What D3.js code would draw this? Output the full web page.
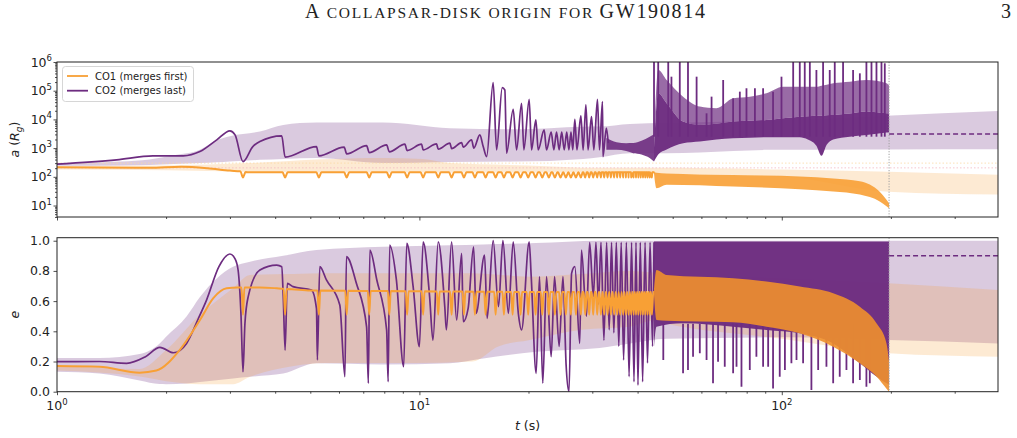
<!DOCTYPE html>
<html>
<head>
<meta charset="utf-8">
<script src="https://cdn.jsdelivr.net/npm/d3@7"></script>
<style>
body { margin: 0; background: #fff; }
svg { display: block; }
text { font-family: "DejaVu Sans", sans-serif; fill: #222; }
</style>
</head>
<body>
<svg id="fig" width="1017" height="438"></svg>
<script>
// ---- data ----
// CO2 separation a (Rg) before the dense phase
var co2TopT = [1.0,1.46,1.84,2.23,2.48,2.76,3.0,3.10,3.26,3.47,3.63,4.17,4.26,5.20,5.28,6.20,6.30,7.15,7.27,8.12,8.26,9.12,9.25,10.14,10.24,11.15,11.27,12.14,12.27,13.08,13.21,13.93,14.13,14.68,15.0,15.33,15.98,16.33,16.93,17.21,17.40,18.15,18.54,19.14,19.42,20.09,20.39,20.96,21.27,22.09,22.43,23.1,23.5,23.9,24.3,24.7,25.1,25.5,25.85,26.2,26.5,26.85,27.2,27.9,28.3,28.8,29.2,29.85,30.3,31.0,31.4,32.0,32.1,32.8,33.2];
var co2TopA = [277,390,537,540,758,1936,3981,2890,340,1132,1692,2667,484,1132,537,1077,631,1227,700,1296,741,1371,822,1371,869,1406,918,1486,963,1560,1079,1936,1000,2890,1132,508,190000,869,127600,106000,667,22600,869,36500,869,50400,869,9610,869,4315,869,3600,869,3600,869,3600,869,3600,869,3600,869,10100,869,13240,869,31900,869,12600,869,50400,869,41700,508,4940,1500];
// fast small oscillation just before the dense phase (envelope)
var oscT = [32.8, 35.0, 37.2, 38.9, 41.0, 43.2, 44.4];
var oscLo = [869, 869, 800, 667, 600, 450, 340];
var oscHi = [2260, 1600, 1486, 1500, 1800, 2512, 3000];
// dense phase envelopes of CO2 (a)
var denseT = [44.4,45.6,48.1,53.4,59.4,66.0,73.4,81.6,90.7,100.8,112.1,118,124.6,128.7,133,138.6,154,171.2,194.5,197.7];
var denseLo = [340,600,900,1486,1692,2000,2218,2300,2400,2400,2400,2000,1200,537,1300,2000,2512,2890,3475,3600];
var denseMid = [1000,81300,36500,8380,6442,7000,8380,9000,9610,11000,12500,13000,13500,13500,14000,14300,16000,18700,16300,16000];
var denseHi = [2000,527000,236000,62100,27900,24400,54300,62100,81300,138000,138000,138000,138000,150000,160000,181000,207000,236000,181000,150000];
var spikeTopT = [44.4,45.6,48.6,49.6,52.3,55.1,58.2,62.0,64.0,68.9,73.4,76.6,79.9,84.3,88.8,94.6,99.8,107.5,112.1,115.7,119.5,124.6,130.0,135.6,140.0,147.6,157.3,164.2,171.2,176.8,182.5,188.4,192.4];
var spikeTopA = [1e6,1e6,1e6,308000,1e6,1e6,308000,16300,62100,236000,54300,92700,121600,121600,121600,92700,308000,1e6,1e6,1e6,1e6,527000,1e6,527000,1e6,1e6,527000,403000,1e6,1e6,1e6,1e6,900000];

// CO1 separation a (Rg)
var co1TopT = [1.0, 1.8, 2.2, 2.6, 3.0, 3.2, 3.4, 10, 20, 30, 44.4];
var co1TopA = [215, 205, 225, 200, 165, 155, 143, 143, 143, 143, 143];
var co1DenseT = [44.4, 45.1, 48.1, 73.4, 112.1, 138.6, 164.2, 186.3, 194.5, 197.7];
var co1DenseHi = [150, 138, 130, 115, 102, 88, 70, 30, 16, 12];
var co1DenseLo = [130, 40, 53, 46, 37, 31, 24, 13.8, 9.5, 8.1];

// encounter times (CO1 cusps)
var encT = [3.26,4.26,5.28,6.30,7.27,8.26,9.25,10.24,11.27,12.27,13.27,14.23,15.23,16.23,17.11,18.08,19.02,19.96,20.92,21.83,22.76,23.65,24.52,25.36,26.18,27.03,27.90,28.68,29.41,30.17,30.95,31.68,32.35,33.05,33.75,34.46,35.13,35.81,36.5,37.13,37.77,38.4,39.0,39.6,40.2,40.8,41.4,42.0,42.6,43.2,43.8];
var dipA = 95, dipE = 0.51;

// eccentricities
var co2BotT = [1.0,1.31,1.556,1.75,1.924,2.094,2.278,2.45,2.586,2.8,3.0,3.1,3.16,3.22,3.26,3.3,3.37,3.63,4.04,4.17,4.21,4.26,4.32,4.48,5.04,5.20,5.23,5.31,5.54,6.03,6.23,6.29,6.70,7.15,7.23,7.30,7.63,8.12,8.20,8.28,8.64,9.05,9.23,9.61,10.0,10.24,10.67,10.9,11.27,11.75,11.87,12.27,12.67,13.08,13.21,13.63,14.11,14.34,15.13,15.38,15.98,16.53,17.0,17.6,18.15,18.75,19.14,20.09,20.35,21.0,21.45,21.9,22.43,23.1,23.6,24.3,24.9,25.4,25.87,26.3,26.85,27.7,28.0,28.9,29.5,30.2,30.7,31.2,31.7,32.3,32.85,33.4,33.9,34.4,34.95,35.5,36.05,36.6,37.25,37.9,38.5,39.1,39.6,40.1,40.7,41.3,41.95,42.6,43.3,44.0,44.4];
var co2BotE = [0.199,0.2,0.188,0.23,0.294,0.258,0.32,0.48,0.607,0.83,0.912,0.88,0.806,0.5,0.132,0.45,0.63,0.806,0.839,0.828,0.63,0.276,0.718,0.696,0.673,0.55,0.21,0.828,0.74,0.574,0.099,0.894,0.718,0.43,0.056,0.938,0.74,0.409,0.066,0.971,0.74,0.166,0.983,0.696,0.298,0.993,0.63,0.342,0.993,0.563,0.409,0.993,0.475,0.917,0.464,0.552,0.96,0.519,0.905,0.486,1.0,0.563,1.0,0.519,0.993,0.519,0.409,0.993,0.762,0.122,0.762,0.056,0.762,0.232,0.762,0.3,0.762,0.177,0.0,0.784,0.828,0.32,0.938,0.5,0.99,0.63,0.99,0.58,0.99,0.34,0.99,0.41,0.99,0.39,0.99,0.3,0.99,0.21,0.99,0.1,0.99,0.066,0.99,0.044,0.99,0.066,0.99,0.19,0.99,0.3,0.99];
var eDenseT = [44.4, 45.1, 53.4, 73.4, 90.7, 112.1, 138.6, 164.2, 182.5, 194.5, 197.7];
var eDenseLo = [0.3, 0.43, 0.453, 0.43, 0.409, 0.387, 0.32, 0.188, 0.1, 0.056, 0.05];
var eDenseHi = [0.995, 0.995, 0.995, 0.995, 0.995, 0.995, 0.995, 0.995, 0.995, 0.995, 0.995];
var spikeBotT = [47.1,53.4,55.1,56.9,59.4,62.0,64.6,66.7,69.6,73.4,75.0,77.4,81.6,85.1,88.8,91.7,94.6,98.7,102.0,106.3,109.8,114.5,120.7,126.0,132.8,138.6,144.5,150.8,157.3,164.2,171.2,174.9];
var spikeBotE = [0.21,0.122,0.144,0.232,0.254,0.21,0.056,0.199,0.166,0.122,0.166,0.033,0.144,0.232,0.166,0.166,0.022,0.099,0.144,0.188,0.21,0.188,0.011,0.144,0.166,0.056,0.099,0.144,0.056,0.078,0.033,0.056];

var co1BotT = [1.0, 1.31, 1.69, 1.88, 2.18, 2.48, 2.7, 2.94, 3.15, 3.63, 4.04, 5.0, 10, 20, 30, 44.4];
var co1BotE = [0.17, 0.165, 0.126, 0.14, 0.276, 0.475, 0.62, 0.685, 0.69, 0.69, 0.685, 0.67, 0.665, 0.66, 0.66, 0.66];
var co1EDenseT = [44.4, 45.1, 48.1, 73.4, 90.7, 112.1, 138.6, 164.2, 182.5, 194.5, 197.7];
var co1EDenseHi = [0.68, 0.806, 0.773, 0.751, 0.73, 0.696, 0.652, 0.563, 0.453, 0.32, 0.2];
var co1EDenseLo = [0.64, 0.475, 0.47, 0.46, 0.431, 0.387, 0.298, 0.188, 0.1, 0.02, 0.0];

// population bands
var bandPTopT = [1.0,1.5,1.8,2.1,2.48,2.76,3.0,3.63,4.21,5.2,7.94,12.14,18.54,28.3,31.4,38.1,48.1,73.4,90.7,171.2,194.5,395];
var bandPTopLo = [245,250,260,280,300,320,340,390,420,450,300,330,340,420,484,667,667,800,869,890,900,918];
var bandPTopHi = [300,340,400,560,869,1900,2600,3800,6442,7740,7740,4940,4500,5600,5620,6970,7500,8380,9000,12500,13500,19800];
var bandOTopT = [1.0, 2.0, 3.41, 5.2, 7.94, 10.2, 12.14, 20, 31.4, 44, 100, 197, 395];
var bandOTopLo = [180, 170, 150, 140, 140, 140, 140, 140, 140, 130, 100, 30, 24];
var bandOTopHi = [240, 250, 300, 400, 450, 420, 300, 250, 205, 205, 180, 150, 117];
var bandPBotT = [1.0,1.31,1.69,1.92,2.0,2.28,2.48,3.06,3.41,4.21,5.2,7.94,12.14,15.0,21.0,31.4,38.1,48.1,100,197,395];
var bandPBotLo = [0.132,0.12,0.075,0.051,0.05,0.055,0.065,0.088,0.099,0.12,0.188,0.18,0.188,0.22,0.265,0.29,0.32,0.35,0.36,0.342,0.32];
var bandPBotHi = [0.223,0.223,0.25,0.32,0.364,0.5,0.627,0.828,0.861,0.9,0.938,0.96,0.97,0.975,0.985,1.0,1.0,1.0,1.0,1.0,1.0];
var bandOBotT = [1.0,1.69,2.0,2.48,3.06,3.41,4.5,5.5,9.5,14,16.5,20,28,38,44,48,100,197,395];
var bandOBotLo = [0.14,0.1,0.07,0.05,0.05,0.099,0.17,0.19,0.19,0.2,0.3,0.34,0.41,0.43,0.47,0.45,0.35,0.254,0.232];
var bandOBotHi = [0.17,0.15,0.276,0.51,0.685,0.773,0.78,0.784,0.784,0.784,0.775,0.762,0.78,0.8,0.79,0.78,0.75,0.718,0.673];

var tMerge = 197.7, aFinal = 3130, eFinal = 0.90;
var refLinesA = [300, 205];
var xMajor = [1, 10, 100];
var yMajorA = [10, 100, 1000, 1e4, 1e5, 1e6];
var yTicksE = [0, 0.2, 0.4, 0.6, 0.8, 1.0];
var legendLabels = ["CO1 (merges first)", "CO2 (merges last)"];

// ---- layout ----
var purple = "#6d2c80", orange = "#f8a035", orangeDense = "#f0902c";
var L = 57, R = 998;
var topY0 = 62, topY1 = 217, botY0 = 237.7, botY1 = 391.7;

var svg = d3.select("#fig");
var x = d3.scaleLog().domain([1, 395]).range([L, R]);
var yA = d3.scaleLog().domain([Math.pow(10, 0.6), 1e6]).range([topY1, topY0]);
var yE = d3.scaleLinear().domain([0, 1.02]).range([botY1, botY0]);

function zip(t, v) { return t.map(function(d, i) { return [d, v[i]]; }); }
function zip3(t, lo, hi) { return t.map(function(d, i) { return [d, lo[i], hi[i]]; }); }

// line with cusps at the encounter times
function withDips(t, v, dips, dipV, halfW, logY) {
  var f = function(q) { return logY ? Math.log10(q) : q; };
  var base = d3.scaleLinear().domain(t.map(Math.log10)).range(v.map(f)).clamp(true);
  var bv = function(tt) { var r = base(Math.log10(tt)); return logY ? Math.pow(10, r) : r; };
  var k = Math.pow(10, halfW);
  var pts = zip(t, v).filter(function(p) {
    return !dips.some(function(te) { return p[0] > te / k && p[0] < te * k; });
  });
  dips.forEach(function(te) {
    pts.push([te / k, bv(te / k)], [te, dipV], [te * k, bv(te * k)]);
  });
  pts.sort(function(p, q) { return p[0] - q[0]; });
  return pts;
}

var defs = svg.append("defs");
defs.append("clipPath").attr("id", "clipTop").append("rect")
  .attr("x", L).attr("y", topY0).attr("width", R - L).attr("height", topY1 - topY0);
defs.append("clipPath").attr("id", "clipBot").append("rect")
  .attr("x", L).attr("y", botY0).attr("width", R - L).attr("height", botY1 - botY0);

function drawPanel(opt) {
  var y = opt.y;
  var g = svg.append("g").attr("clip-path", "url(#" + opt.clip + ")");
  var line = d3.line().x(function(d) { return x(d[0]); }).y(function(d) { return y(d[1]); }).curve(d3.curveMonotoneX);
  var area = d3.area().x(function(d) { return x(d[0]); })
    .y0(function(d) { return y(d[1]); }).y1(function(d) { return y(d[2]); }).curve(d3.curveMonotoneX);

  g.append("path").attr("d", area(opt.bandP)).attr("fill", purple).attr("fill-opacity", 0.25);
  g.append("path").attr("d", area(opt.bandO)).attr("fill", orange).attr("fill-opacity", 0.22);

  (opt.refs || []).forEach(function(r, i) {
    g.append("line").attr("x1", L).attr("x2", R).attr("y1", y(r)).attr("y2", y(r))
      .attr("stroke", i === 0 ? "#fbd9a6" : "#f5b8c4").attr("stroke-width", 0.8)
      .attr("stroke-dasharray", "1.5,2");
  });

  // CO2
  if (opt.osc) g.append("path").attr("d", area(opt.osc)).attr("fill", purple).attr("fill-opacity", 0.9);
  g.append("path").attr("d", area(opt.dense)).attr("fill", purple).attr("fill-opacity", 0.97);
  if (opt.fringe) g.append("path").attr("d", area(opt.fringe)).attr("fill", purple).attr("fill-opacity", 0.7);
  g.selectAll("line.spike").data(opt.spikes).enter().append("line").attr("class", "spike")
    .attr("x1", function(d) { return x(d[0]); }).attr("x2", function(d) { return x(d[0]); })
    .attr("y1", function(d) { return y(d[1]); }).attr("y2", y(opt.spikeBase))
    .attr("stroke", purple).attr("stroke-width", 1.8);
  g.append("path").attr("d", line(opt.co2)).attr("fill", "none")
    .attr("stroke", purple).attr("stroke-width", 1.7).attr("stroke-linejoin", "round");

  // CO1
  g.append("path").attr("d", line(opt.co1)).attr("fill", "none")
    .attr("stroke", orange).attr("stroke-width", 2).attr("stroke-linejoin", "round");
  g.append("path").attr("d", area(opt.co1Dense)).attr("fill", opt.co1Fill).attr("fill-opacity", 0.9);

  // after merger
  g.append("line").attr("x1", x(tMerge)).attr("x2", R).attr("y1", y(opt.final)).attr("y2", y(opt.final))
    .attr("stroke", purple).attr("stroke-width", 1.5).attr("stroke-dasharray", "5,3");
  g.append("line").attr("x1", x(tMerge)).attr("x2", x(tMerge)).attr("y1", opt.y0).attr("y2", opt.y1)
    .attr("stroke", "#a0a0a0").attr("stroke-width", 1).attr("stroke-dasharray", "1.2,1.5");

  // axes
  var minorX = [];
  [1, 10, 100].forEach(function(dec) { for (var m = 2; m <= 9; m++) if (dec * m <= 395) minorX.push(dec * m); });
  var ax = svg.append("g").attr("transform", "translate(0," + opt.y1 + ")");
  ax.call(d3.axisBottom(x).tickValues(xMajor).tickSize(3.5).tickFormat(""));
  ax.append("g").call(d3.axisBottom(x).tickValues(minorX).tickSize(2).tickFormat(""));
  ax.selectAll(".domain").remove();
  ax.selectAll("line").attr("stroke", "#222").attr("stroke-width", 0.8);

  var ay = svg.append("g").attr("transform", "translate(" + L + ",0)");
  ay.call(d3.axisLeft(y).tickValues(opt.yMajor).tickSize(3.5).tickFormat(""));
  if (opt.yMinor) ay.append("g").call(d3.axisLeft(y).tickValues(opt.yMinor).tickSize(2).tickFormat(""));
  ay.selectAll(".domain").remove();
  ay.selectAll("line").attr("stroke", "#222").attr("stroke-width", 0.8);

  svg.append("rect").attr("x", L).attr("y", opt.y0).attr("width", R - L).attr("height", opt.y1 - opt.y0)
    .attr("fill", "none").attr("stroke", "#222").attr("stroke-width", 1);
}

var yMinorA = [];
[1, 10, 100, 1000, 1e4, 1e5].forEach(function(dec) {
  for (var m = 2; m <= 9; m++) if (dec * m >= 4) yMinorA.push(dec * m);
});

drawPanel({
  y: yA, clip: "clipTop", y0: topY0, y1: topY1,
  bandP: zip3(bandPTopT, bandPTopLo, bandPTopHi),
  bandO: zip3(bandOTopT, bandOTopLo, bandOTopHi),
  refs: refLinesA,
  osc: zip3(oscT, oscLo, oscHi),
  dense: zip3(denseT, denseLo, denseMid),
  fringe: zip3(denseT, denseMid, denseHi),
  spikes: zip(spikeTopT, spikeTopA), spikeBase: 2500,
  co2: zip(co2TopT, co2TopA),
  co1: withDips(co1TopT, co1TopA, encT, dipA, 0.007, true),
  co1Dense: zip3(co1DenseT, co1DenseLo, co1DenseHi), co1Fill: orange,
  final: aFinal,
  yMajor: yMajorA, yMinor: yMinorA
});

drawPanel({
  y: yE, clip: "clipBot", y0: botY0, y1: botY1,
  bandP: zip3(bandPBotT, bandPBotLo, bandPBotHi),
  bandO: zip3(bandOBotT, bandOBotLo, bandOBotHi),
  dense: zip3(eDenseT, eDenseLo, eDenseHi),
  spikes: zip(spikeBotT, spikeBotE), spikeBase: 0.45,
  co2: zip(co2BotT, co2BotE),
  co1: withDips(co1BotT, co1BotE, encT, dipE, 0.004, false),
  co1Dense: zip3(co1EDenseT, co1EDenseLo, co1EDenseHi), co1Fill: orangeDense,
  final: eFinal,
  yMajor: yTicksE
});

// tick labels
function powLabel(sel, exp) {
  sel.append("tspan").text("10");
  sel.append("tspan").attr("dy", -5.5).attr("font-size", "8.5px").text(exp);
}
xMajor.forEach(function(t) {
  var tx = svg.append("text").attr("x", x(t)).attr("y", 410).attr("text-anchor", "middle")
    .attr("font-size", "12.5px");
  powLabel(tx, Math.round(Math.log10(t)));
});
yMajorA.forEach(function(v) {
  var tx = svg.append("text").attr("x", 52).attr("y", yA(v) + 4.5).attr("text-anchor", "end")
    .attr("font-size", "12.5px");
  powLabel(tx, Math.round(Math.log10(v)));
});
yTicksE.forEach(function(v) {
  svg.append("text").attr("x", 50).attr("y", yE(v) + 4.5).attr("text-anchor", "end")
    .attr("font-size", "12.5px").text(d3.format(".1f")(v));
});

// axis labels
var la = svg.append("text").attr("transform", "translate(19," + ((topY0 + topY1) / 2) + ") rotate(-90)")
  .attr("text-anchor", "middle").attr("font-size", "12.5px");
la.append("tspan").attr("font-style", "italic").text("a");
la.append("tspan").text("  (");
la.append("tspan").attr("font-style", "italic").text("R");
la.append("tspan").attr("font-style", "italic").attr("font-size", "9px").attr("dy", 3).text("g");
la.append("tspan").attr("dy", -3).text(")");
svg.append("text").attr("transform", "translate(19," + ((botY0 + botY1) / 2) + ") rotate(-90)")
  .attr("text-anchor", "middle").attr("font-size", "12.5px").attr("font-style", "italic").text("e");
var lt = svg.append("text").attr("x", (L + R) / 2).attr("y", 430).attr("text-anchor", "middle").attr("font-size", "12.5px");
lt.append("tspan").attr("font-style", "italic").text("t");
lt.append("tspan").text(" (s)");

// legend
var lg = svg.append("g");
lg.append("rect").attr("x", 62.5).attr("y", 66.5).attr("width", 131).attr("height", 35).attr("rx", 3)
  .attr("fill", "#fff").attr("fill-opacity", 0.8).attr("stroke", "#ccc").attr("stroke-width", 0.8);
[orange, purple].forEach(function(c, i) {
  lg.append("line").attr("x1", 67).attr("x2", 88).attr("y1", 76 + i * 14.7).attr("y2", 76 + i * 14.7)
    .attr("stroke", c).attr("stroke-width", 1.8);
  lg.append("text").attr("x", 95).attr("y", 79.5 + i * 14.7).attr("font-size", "10px").text(legendLabels[i]);
});

// running head (hand-made small caps)
var serif = "'Liberation Serif', 'DejaVu Serif', serif";
var head = svg.append("text").attr("x", 505).attr("y", 18).attr("text-anchor", "middle")
  .style("font-family", serif).attr("font-size", "20px")
  .attr("textLength", 400).attr("lengthAdjust", "spacing");
head.append("tspan").text("A ");
head.append("tspan").attr("font-size", "15.5px").text("COLLAPSAR-DISK ORIGIN FOR ");
head.append("tspan").text("GW190814");
svg.append("text").attr("x", 1011).attr("y", 18).attr("text-anchor", "end")
  .style("font-family", serif).attr("font-size", "20px").text("3");
</script>
</body>
</html>
